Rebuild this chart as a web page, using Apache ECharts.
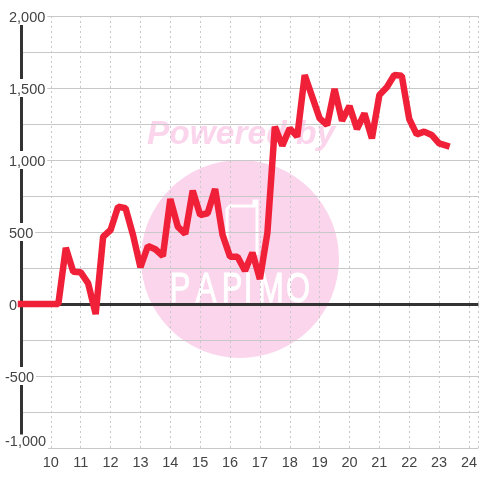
<!DOCTYPE html>
<html>
<head>
<meta charset="utf-8">
<style>html,body{margin:0;padding:0;background:#fff}#main{width:480px;height:480px}</style>
<script src="https://cdn.jsdelivr.net/npm/echarts@6/dist/echarts.min.js"></script>
</head>
<body>
<div id="main"></div>
<script>
var xValues = [
    9, 10.25, 10.5, 10.75, 11, 11.25, 11.5, 11.75, 12, 12.25, 12.5, 12.75, 13, 13.25, 13.5, 13.75,
    14, 14.25, 14.5, 14.75, 15, 15.25, 15.5, 15.75, 16, 16.25, 16.5, 16.75, 17, 17.25, 17.5, 17.75,
    18, 18.25, 18.5, 18.75, 19, 19.25, 19.5, 19.75, 20, 20.25, 20.5, 20.75, 21, 21.25, 21.5, 21.75,
    22, 22.25, 22.5, 22.75, 23, 23.25
];
var yValues = [
    0, 0, 390, 224, 220, 143, -70, 467, 514, 676, 665, 480, 255, 403, 380, 333,
    729, 537, 486, 787, 618, 630, 799, 480, 328, 328, 231, 356, 173, 493, 1231, 1100,
    1220, 1162, 1590, 1440, 1289, 1243, 1493, 1273, 1375, 1215, 1324, 1150, 1451, 1505, 1590, 1585,
    1285, 1178, 1197, 1174, 1116, 1100
];
var xTickLabels = [10, 11, 12, 13, 14, 15, 16, 17, 18, 19, 20, 21, 22, 23, 24];
var yTickLabels = [-1000, -500, 0, 500, 1000, 1500, 2000];

var seriesData = xValues.map(function (x, i) { return [x, yValues[i]]; });
var textColor = '#444';
var pink = '#fbd5ec';

// white logo letters on the pink circle
var logoLetters = [
    {t: 'P', x: 180}, {t: 'A', x: 206}, {t: 'P', x: 232},
    {t: 'I', x: 248}, {t: 'M', x: 271}, {t: 'O', x: 298}
];
var logo = logoLetters.map(function (l) {
    return {
        type: 'text', z: -1, x: l.x, y: 290, scaleX: 0.72,
        style: {
            text: l.t, fill: '#fff', stroke: '#fff', lineWidth: 1, font: '43px "Liberation Sans"',
            align: 'center', verticalAlign: 'middle'
        }
    };
});

var myChart = echarts.init(document.getElementById('main'), null, {renderer: 'canvas'});
myChart.setOption({
    animation: false,
    backgroundColor: '#fff',
    textStyle: {fontFamily: '"Liberation Sans"'},
    grid: {left: 20, right: 0, top: 16, bottom: 32},
    graphic: [
        {type: 'circle', z: -2, shape: {cx: 240, cy: 259, r: 99}, style: {fill: pink}},
        {
            type: 'text', z: -1, x: 241, y: 135,
            style: {
                text: 'Powered by', fill: pink, font: 'italic bold 33.5px "Liberation Sans"',
                align: 'center', verticalAlign: 'middle'
            }
        },
        {
            type: 'polyline', z: -1,
            shape: {points: [[227, 245], [227, 209], [230, 206], [254, 206], [254, 201], [257, 201], [257, 255]]},
            style: {stroke: '#fff', lineWidth: 3, fill: null}
        }
    ].concat(logo),
    xAxis: [
        {
            type: 'value', position: 'bottom', min: 9, max: 24.317, interval: 1,
            axisLine: {show: false, onZero: false},
            axisTick: {show: false},
            axisLabel: {
                customValues: xTickLabels, color: textColor, fontSize: 14.5, margin: 7,
                showMinLabel: true, showMaxLabel: true, hideOverlap: false
            },
            splitLine: {show: true, lineStyle: {color: '#c8c8c8', width: 1, type: [2, 3]}}
        },
        {
            // heavy zero line
            type: 'value', min: 9, max: 24.317, interval: 1,
            axisLine: {show: true, onZero: true, lineStyle: {color: '#333', width: 3, cap: 'butt'}},
            axisTick: {show: false},
            axisLabel: {show: false},
            splitLine: {show: false}
        }
    ],
    yAxis: {
        type: 'value', min: -1000, max: 2000, interval: 250,
        axisLine: {show: true, onZero: false, lineStyle: {color: '#333', width: 3, cap: 'butt'}},
        axisTick: {show: false},
        axisLabel: {
            customValues: yTickLabels,
            align: 'left', margin: 18, fontSize: 14.5, color: textColor,
            backgroundColor: '#fff', padding: [0, 2],
            formatter: function (v) {
                var s = echarts.format.addCommas(v);
                if (v === -1000) return '{m|' + s + '}';
                return v < 0 ? '{n|' + s + '}' : '{p|' + s + '}';
            },
            rich: {
                m: {fontSize: 14.5, color: textColor, padding: [0, 0, 12, 0]},
                n: {fontSize: 14.5, color: textColor, padding: [3, 0, 0, 0]},
                p: {fontSize: 14.5, color: textColor, padding: [3, 0, 0, 4]}
            }
        },
        splitLine: {show: true, lineStyle: {color: '#c8c8c8', width: 1}}
    },
    series: [{
        type: 'line', xAxisIndex: 0, data: seriesData, showSymbol: false, clip: false,
        lineStyle: {color: '#f02038', width: 6.5, join: 'bevel', cap: 'square'}
    }]
});
</script>
</body>
</html>
